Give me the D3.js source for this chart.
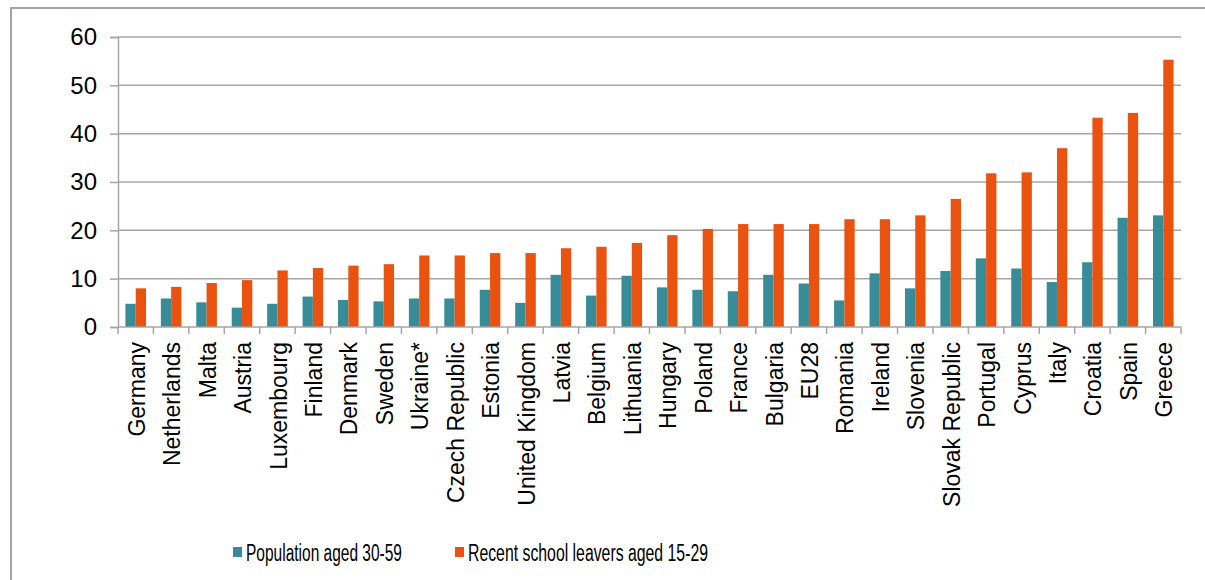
<!DOCTYPE html>
<html>
<head>
<meta charset="utf-8">
<script src="https://cdn.jsdelivr.net/npm/d3@7"></script>
<style>
  html, body { margin: 0; padding: 0; background: #fff; }
  svg { display: block; }
</style>
</head>
<body>
<svg id="chart"></svg>
<script>
// data (percent)
const countries = ["Germany", "Netherlands", "Malta", "Austria", "Luxembourg", "Finland", "Denmark", "Sweden",
  "Ukraine*", "Czech Republic", "Estonia", "United Kingdom", "Latvia", "Belgium", "Lithuania", "Hungary",
  "Poland", "France", "Bulgaria", "EU28", "Romania", "Ireland", "Slovenia", "Slovak Republic", "Portugal",
  "Cyprus", "Italy", "Croatia", "Spain", "Greece"];
const seriesNames = ["Population aged 30-59", "Recent school leavers aged 15-29"];
const aged3059 = [4.8, 5.9, 5.1, 4.0, 4.8, 6.3, 5.6, 5.3, 5.9, 5.9, 7.7, 5.0, 10.8, 6.5, 10.6, 8.2,
  7.7, 7.4, 10.8, 9.0, 5.5, 11.1, 8.0, 11.6, 14.2, 12.1, 9.3, 13.4, 22.6, 23.1];
const leavers1529 = [8.0, 8.3, 9.1, 9.7, 11.7, 12.2, 12.7, 13.0, 14.8, 14.8, 15.3, 15.3, 16.3, 16.6, 17.4, 19.0,
  20.3, 21.3, 21.3, 21.3, 22.3, 22.3, 23.1, 26.5, 31.8, 32.0, 37.0, 43.3, 44.3, 55.3];
const yTicks = [0, 10, 20, 30, 40, 50, 60];
const colors = ["#378c98", "#e9520f"];

const width = 1205, height = 580;
const margin = {left: 118, right: 24, top: 37, bottom: 253};

const svg = d3.select("#chart").attr("width", width).attr("height", height);

// outer frame of the original chart area
svg.append("rect")
  .attr("x", 11).attr("y", 8)
  .attr("width", width + 20).attr("height", height + 20)
  .attr("fill", "none").attr("stroke", "#a3a3a3").attr("stroke-width", 2);

const x = d3.scaleBand().domain(countries).range([margin.left, width - margin.right]);
const xs = d3.scaleBand().domain(seriesNames).range([0, x.bandwidth()]).paddingOuter(0.72);
const y = d3.scaleLinear().domain([0, 60]).range([height - margin.bottom, margin.top]);

const rows = countries.map((c, i) => ({country: c, values: [aged3059[i], leavers1529[i]]}));

// gridlines
svg.append("g")
  .selectAll("line")
  .data(yTicks.filter(d => d > 0))
  .join("line")
  .attr("x1", margin.left).attr("x2", width - margin.right)
  .attr("y1", d => y(d)).attr("y2", d => y(d))
  .attr("stroke", "#a6a6a6").attr("stroke-width", 1.5);

// y axis
const yAxis = svg.append("g")
  .attr("transform", `translate(${margin.left},0)`)
  .call(d3.axisLeft(y).tickValues(yTicks).tickSize(8).tickPadding(13));
yAxis.select(".domain").attr("stroke", "#a6a6a6").attr("stroke-width", 1.5);
yAxis.selectAll(".tick line").attr("stroke", "#a6a6a6").attr("stroke-width", 1.5);
yAxis.selectAll("text")
  .attr("font-family", "Liberation Sans, Arial, sans-serif")
  .attr("font-size", 24).attr("fill", "#000");

// bars
svg.append("g")
  .selectAll("g")
  .data(rows)
  .join("g")
  .attr("transform", d => `translate(${x(d.country)},0)`)
  .selectAll("rect")
  .data(d => d.values.map((v, k) => ({k, v})))
  .join("rect")
  .attr("x", d => xs(seriesNames[d.k]))
  .attr("width", xs.bandwidth())
  .attr("y", d => y(d.v))
  .attr("height", d => y(0) - y(d.v))
  .attr("fill", d => colors[d.k]);

// x axis: ticks between categories
const xAxis = svg.append("g").attr("transform", `translate(0,${y(0)})`);
xAxis.append("line")
  .attr("x1", margin.left).attr("x2", width - margin.right)
  .attr("stroke", "#a6a6a6").attr("stroke-width", 1.5);
const edges = countries.map(c => x(c)).concat([x.range()[1]]);
xAxis.selectAll(".edge")
  .data(edges)
  .join("line")
  .attr("class", "edge")
  .attr("x1", d => d).attr("x2", d => d)
  .attr("y1", 0).attr("y2", 7)
  .attr("stroke", "#a6a6a6").attr("stroke-width", 1.5);
xAxis.selectAll("text")
  .data(countries)
  .join("text")
  .attr("transform", d => `translate(${x(d) + x.bandwidth() / 2 + 1},15) rotate(-90)`)
  .attr("text-anchor", "end")
  .attr("dy", "0.35em")
  .attr("font-family", "Liberation Sans, Arial, sans-serif")
  .attr("font-size", 23)
  .attr("fill", "#000")
  .text(d => d);

// legend
const legendX = [233, 455];
const legendW = [156, 240];
const legend = svg.append("g").attr("font-family", "Liberation Sans, Arial, sans-serif");
legend.selectAll("rect")
  .data(seriesNames)
  .join("rect")
  .attr("x", (d, i) => legendX[i]).attr("y", 547)
  .attr("width", 9).attr("height", 10)
  .attr("fill", (d, i) => colors[i]);
legend.selectAll("text")
  .data(seriesNames)
  .join("text")
  .attr("x", (d, i) => legendX[i] + 13).attr("y", 561)
  .attr("font-size", 23)
  .attr("textLength", (d, i) => legendW[i])
  .attr("lengthAdjust", "spacingAndGlyphs")
  .attr("fill", "#000")
  .text(d => d);
</script>
</body>
</html>
